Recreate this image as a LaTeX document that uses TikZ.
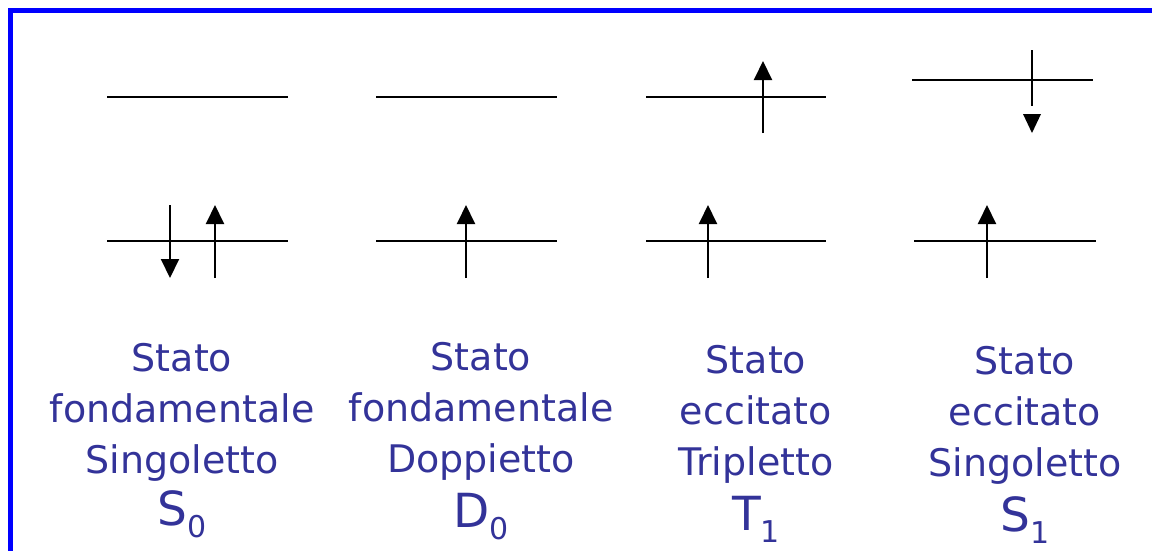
\documentclass[tikz,border=0pt]{standalone}
\usepackage{fontspec}
\setmainfont{DejaVu Sans}
\usetikzlibrary{arrows.meta}
\definecolor{frameblue}{RGB}{0,0,255}
\definecolor{txtblue}{RGB}{51,51,153}
\newcommand{\labfont}{\fontsize{38}{51}\selectfont}
\newcommand{\symfont}{\fontsize{47}{51}\selectfont}
\newcommand{\subfnt}[1]{\raisebox{-12pt}{\fontsize{30}{30}\selectfont #1}}
\begin{document}
\begin{tikzpicture}[x=1pt,y=-1pt,
  level/.style={line width=2pt,black},
  spin/.style={line width=2pt,black,-{Triangle[width=18pt,length=19pt]}},
  spinline/.style={line width=2pt,black},
  headfill/.style={fill=black},
  lbl/.style={text=txtblue,align=center,font=\labfont,inner sep=0pt},
  frame/.style={line width=5pt,frameblue}]
\useasboundingbox (0,0) rectangle (1152,550);
% frame
\coordinate (fa) at (10.5,552);
\coordinate (fb) at (10.5,10.5);
\coordinate (fc) at (1154,10.5);
\draw[frame] (fa) -- (fb) -- (fc);

% column 1: S0
\coordinate (a1u1) at (107,97);  \coordinate (a1u2) at (288,97);
\coordinate (a1l1) at (107,241); \coordinate (a1l2) at (288,241);
\draw[level] (a1u1) -- (a1u2);
\draw[level] (a1l1) -- (a1l2);
\coordinate (a1d1) at (170,205); \coordinate (a1d2) at (170,278);
\draw[spin] (a1d1) -- (a1d2);
\coordinate (a1e1) at (215,278); \coordinate (a1e2) at (215,205);
\draw[spin] (a1e1) -- (a1e2);

% column 2: D0
\coordinate (a2u1) at (376,97);  \coordinate (a2u2) at (557,97);
\coordinate (a2l1) at (376,241); \coordinate (a2l2) at (557,241);
\draw[level] (a2u1) -- (a2u2);
\draw[level] (a2l1) -- (a2l2);
\coordinate (a2e1) at (466,278); \coordinate (a2e2) at (466,205);
\draw[spin] (a2e1) -- (a2e2);

% column 3: T1
\coordinate (a3u1) at (646,97);  \coordinate (a3u2) at (826,97);
\coordinate (a3l1) at (646,241); \coordinate (a3l2) at (826,241);
\draw[level] (a3u1) -- (a3u2);
\draw[level] (a3l1) -- (a3l2);
\coordinate (a3f1) at (763,133); \coordinate (a3f2) at (763,61);
\draw[spin] (a3f1) -- (a3f2);
\coordinate (a3e1) at (708,278); \coordinate (a3e2) at (708,205);
\draw[spin] (a3e1) -- (a3e2);

% column 4: S1
\coordinate (a4u1) at (912,80);  \coordinate (a4u2) at (1093,80);
\coordinate (a4l1) at (914,241); \coordinate (a4l2) at (1096,241);
\draw[level] (a4u1) -- (a4u2);
\draw[level] (a4l1) -- (a4l2);
\coordinate (a4g1) at (1032,50); \coordinate (a4g2) at (1032,106);
\draw[spinline] (a4g1) -- (a4g2);
\coordinate (a4h1) at (1023,114); \coordinate (a4h2) at (1041,114); \coordinate (a4h3) at (1032,133);
\fill[headfill] (a4h1) -- (a4h2) -- (a4h3) -- cycle;
\coordinate (a4e1) at (987,278); \coordinate (a4e2) at (987,205);
\draw[spin] (a4e1) -- (a4e2);

% labels (anchor = baseline of the last line)
\node[lbl,anchor=base] (t1) at (182,525) {Stato\\fondamentale\\Singoletto\\[1pt]{\symfont S\subfnt{0}}};
\node[lbl,anchor=base] (t2) at (481,527) {Stato\\fondamentale\\Doppietto\\[4pt]{\symfont D\subfnt{0}}};
\node[lbl,anchor=base] (t3) at (756,530) {Stato\\eccitato\\Tripletto\\[4pt]{\symfont T\subfnt{1}}};
\node[lbl,anchor=base] (t4) at (1025,531) {Stato\\eccitato\\Singoletto\\[4pt]{\symfont S\subfnt{1}}};
\end{tikzpicture}
\end{document}
